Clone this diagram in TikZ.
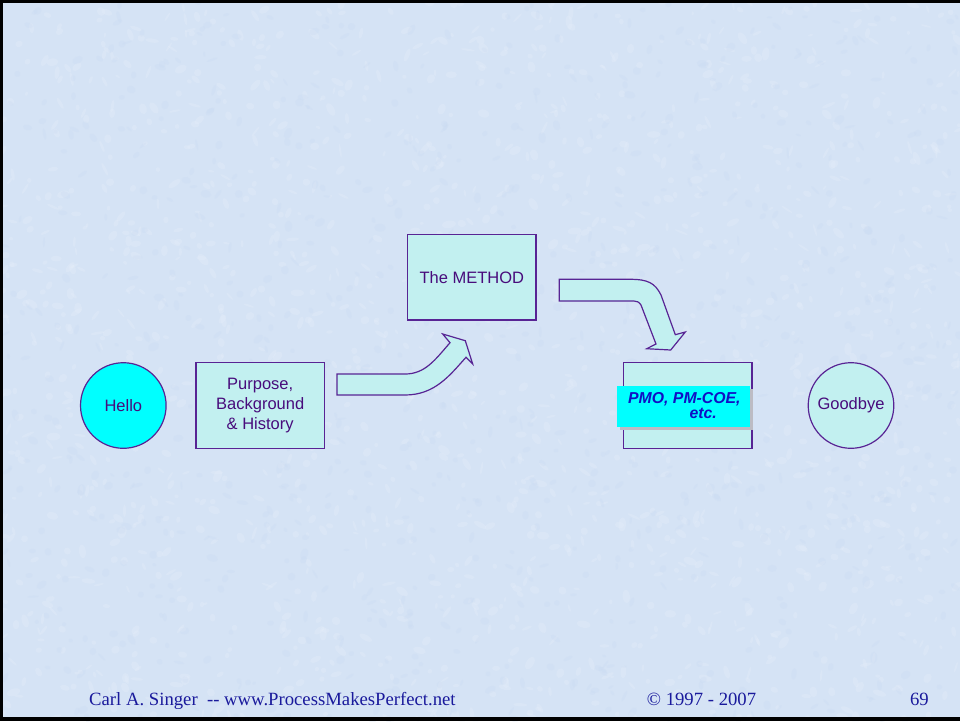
\documentclass[tikz,border=0pt]{standalone}
\usepackage{fontspec}
\setmainfont{Liberation Sans}
\newfontfamily\footfont{Liberation Serif}
\definecolor{bgblue}{RGB}{213,227,245}
\definecolor{mottlelight}{RGB}{236,242,251}
\definecolor{mottledark}{RGB}{196,214,240}
\definecolor{linepurple}{RGB}{88,36,148}
\definecolor{textpurple}{RGB}{72,12,124}
\definecolor{palecyan}{RGB}{194,240,240}
\definecolor{brightcyan}{RGB}{0,255,255}
\definecolor{shadowgrey}{RGB}{188,188,196}
\definecolor{pmoblue}{RGB}{16,16,196}
\definecolor{footblue}{RGB}{26,26,156}
\begin{document}
\begin{tikzpicture}[x=1pt,y=-1pt,
  outline/.style={draw=linepurple, line width=1.2pt},
  bodytext/.style={text=textpurple, font=\fontsize{16.5}{19.7}\selectfont},
  box/.style={outline, bodytext, fill=palecyan, rectangle, inner sep=2pt, align=center},
  disc/.style={outline, bodytext, circle, minimum size=85.6pt, inner sep=0pt},
  blockarrow/.style={outline, fill=palecyan, line join=miter},
  pmotext/.style={text=pmoblue, inner sep=0pt, font=\fontsize{15.8}{14}\selectfont\bfseries\itshape},
  foottext/.style={text=footblue, inner sep=0pt, font=\footfont\fontsize{18.7}{22}\selectfont}]
\useasboundingbox (0,0) rectangle (960,721);
% slide background with a fine, soft paper texture
\fill[bgblue] (0,0) rectangle (960,721);
\pgfmathsetseed{4242}
\begin{scope}
\clip (0,0) rectangle (960,721);
\foreach \k in {1,...,1600}{
  \pgfmathsetmacro{\px}{rnd*960}
  \pgfmathsetmacro{\py}{rnd*721}
  \pgfmathsetmacro{\ra}{2+rnd*5}
  \pgfmathsetmacro{\rb}{1+rnd*3}
  \pgfmathsetmacro{\ang}{rnd*180}
  \fill[mottlelight, opacity=0.22, rotate around={\ang:(\px,\py)}] (\px,\py) ellipse ({\ra} and {\rb});
}
\foreach \k in {1,...,900}{
  \pgfmathsetmacro{\px}{rnd*960}
  \pgfmathsetmacro{\py}{rnd*721}
  \pgfmathsetmacro{\ra}{2+rnd*4}
  \pgfmathsetmacro{\rb}{1+rnd*3}
  \pgfmathsetmacro{\ang}{rnd*180}
  \fill[mottledark, opacity=0.2, rotate around={\ang:(\px,\py)}] (\px,\py) ellipse ({\ra} and {\rb});
}
\end{scope}
% slide frame
\fill[black] (0,0) rectangle (3,721);
\fill[black] (0,0) rectangle (960,3);
\fill[black] (0,717) rectangle (960,721);

% stages
\node[disc, fill=brightcyan] (hello) at (123.3,405.5) {Hello};
\node[box, minimum width=128.3pt, minimum height=85.6pt] (purpose) at (260.2,405.5)
  {Purpose,\\Background\\\& History};
\node[box, minimum width=128.3pt, minimum height=85.7pt] (method) at (471.9,277.2) {The METHOD};
\node[box, minimum width=128.7pt, minimum height=86pt] (pmo) at (687.7,405.3) {};
\node[disc, fill=palecyan] (goodbye) at (851,405.5) {Goodbye};

% highlighted band inside the PMO box
\fill[shadowgrey] (620.3,389) rectangle (753,429.7);
\fill[brightcyan] (617.3,386) rectangle (750,426.7);
\node[pmotext, anchor=base west] (pmoA) at (628,403.8) {PMO, PM-COE,};
\node[pmotext, anchor=base west] (pmoB) at (689.3,418.8) {etc.};

% curved block arrow rising towards the method box
\draw[blockarrow] (337,374) -- (405,374)
  .. controls (425,374) and (435,360) .. (450,342.7)
  -- (442.7,334) -- (465.3,340.7) -- (472.7,364) -- (466,357.3)
  .. controls (450,375) and (435,395) .. (405,395)
  -- (337,395) -- cycle;

% curved block arrow descending onto the PMO box
\draw[blockarrow] (559.3,279.3) -- (630,279.3)
  .. controls (648,279.3) and (655,283) .. (661,295)
  -- (675.3,334.7) -- (685.3,332) -- (670.7,350) -- (646.7,348.7) -- (656,344)
  -- (641,305) .. controls (639,302) and (637,301) .. (634,301)
  -- (559.3,301) -- cycle;

% footer
\node[foottext, anchor=base west] (author) at (89,705) {Carl A. Singer\ \ -- www.ProcessMakesPerfect.net};
\node[foottext, anchor=base west] (copyright) at (646.7,705) {© 1997 - 2007};
\node[foottext, anchor=base east] (pageno) at (929,705) {69};
\end{tikzpicture}
\end{document}
